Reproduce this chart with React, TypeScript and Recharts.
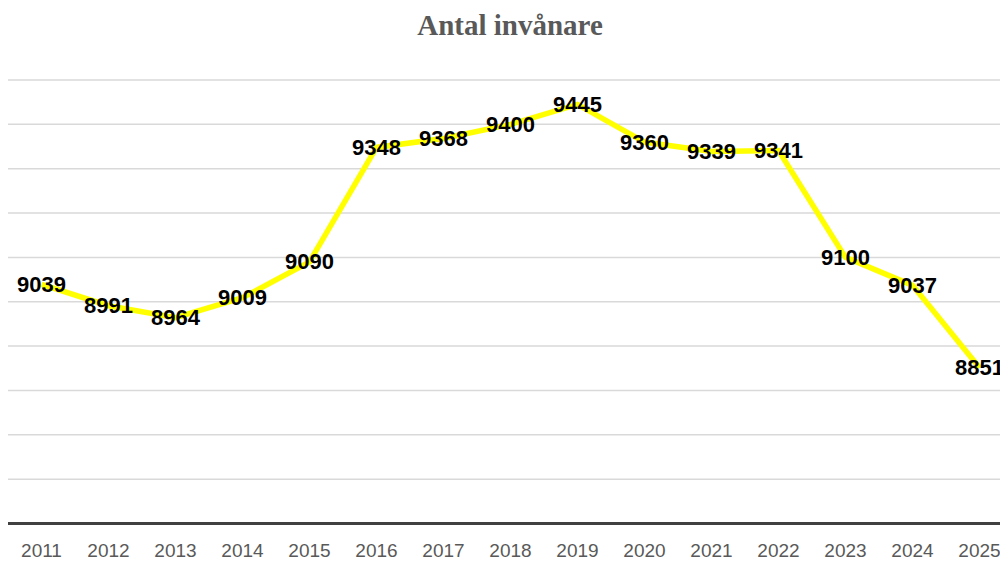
import React from 'react';
import { LineChart, Line, XAxis, YAxis, CartesianGrid } from 'recharts';

const years = ['2011', '2012', '2013', '2014', '2015', '2016', '2017', '2018', '2019', '2020', '2021', '2022', '2023', '2024', '2025'];
const residents = [9039, 8991, 8964, 9009, 9090, 9348, 9368, 9400, 9445, 9360, 9339, 9341, 9100, 9037, 8851];
const yTicks = [8500, 8600, 8700, 8800, 8900, 9000, 9100, 9200, 9300, 9400, 9500];

const data = years.map((year, i) => ({ year, value: residents[i] }));

const renderLabel = (props: any) => {
  const { x, y, value, index } = props;
  return (
    <text
      key={`lbl-${index}`}
      x={x}
      y={y}
      textAnchor="middle"
      dominantBaseline="central"
      fontFamily="'Liberation Sans', Arial, sans-serif"
      fontWeight="bold"
      fontSize={22}
      fill="#000"
    >
      {value}
    </text>
  );
};

export default function App() {
  return (
    <div
      style={{
        position: 'relative',
        width: 1000,
        height: 562,
        boxSizing: 'border-box',
        paddingLeft: 8,
        paddingTop: 8,
        overflow: 'hidden',
        background: '#fff',
      }}
    >
      <style>{'body{margin:0}'}</style>
      <div
        style={{
          position: 'absolute',
          top: 10,
          left: 8,
          width: 1004,
          textAlign: 'center',
          fontFamily: "'Liberation Serif', 'Times New Roman', serif",
          fontWeight: 'bold',
          fontSize: 29,
          lineHeight: '30px',
          color: '#595959',
          zIndex: 1,
        }}
      >
        Antal invånare
      </div>
      <LineChart width={1005} height={554} data={data} margin={{ top: 72, right: 0, left: 0, bottom: 0 }}>
        <CartesianGrid horizontal vertical={false} stroke="#d9d9d9" strokeWidth={1.5} />
        <YAxis hide domain={[8500, 9500]} ticks={yTicks} />
        <XAxis
          dataKey="year"
          height={38.5}
          padding={{ left: 33.5, right: 33.5 }}
          axisLine={{ stroke: '#404040', strokeWidth: 3 }}
          tickLine={false}
          tickSize={0}
          tickMargin={20}
          interval={0}
          tick={{ fontFamily: "'Liberation Sans', Arial, sans-serif", fontSize: 19, fill: '#595959' }}
        />
        <Line
          type="linear"
          dataKey="value"
          stroke="#ffff00"
          strokeWidth={5.5}
          dot={false}
          isAnimationActive={false}
          label={renderLabel}
        />
      </LineChart>
    </div>
  );
}
